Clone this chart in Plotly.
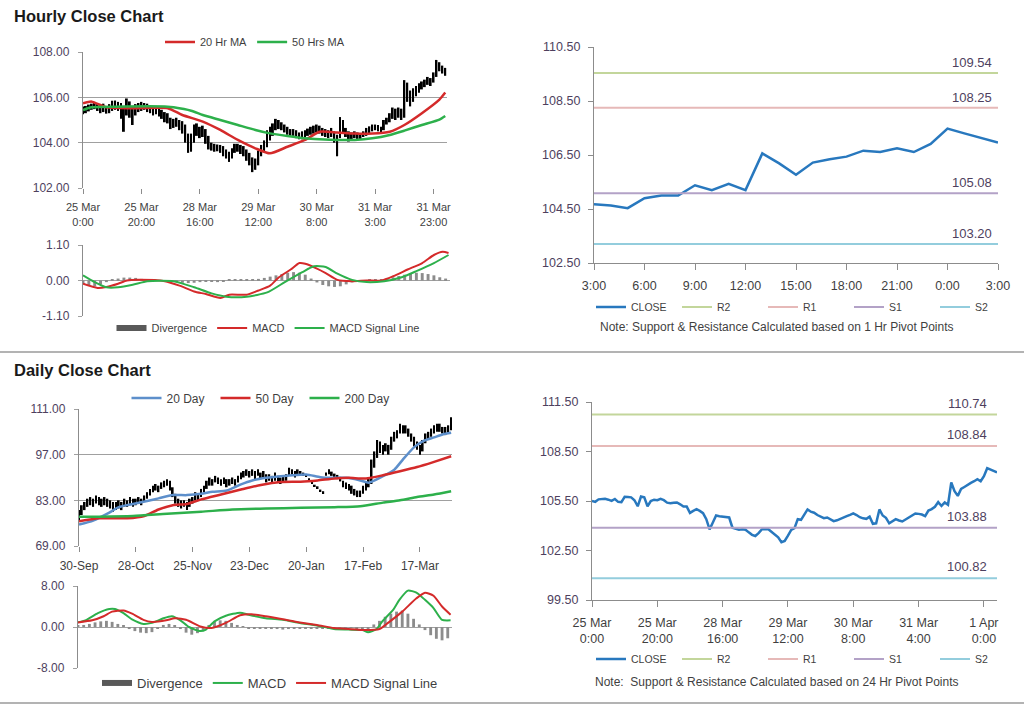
import plotly.graph_objects as go

W, H = 1024, 706
FONT = "Liberation Sans, Arial, Helvetica, sans-serif"

# ---------------- Hourly data (125 hourly bars, 25 Mar 0:00 -> 1 Apr) ----------------
hourly_close = [
    105.51, 105.45, 105.60, 105.63, 105.63, 105.58, 105.51, 105.62, 105.45, 105.43,
    105.75, 105.74, 105.72, 105.55, 105.18, 105.77, 105.72, 105.18, 105.50, 105.58,
    105.55, 105.63, 105.55, 105.40, 105.37, 105.40, 105.41, 105.30, 105.16, 105.16,
    104.78, 104.90, 105.00, 104.90, 104.76, 104.40, 103.78, 104.20, 104.62, 104.58,
    104.56, 104.54, 104.50, 103.88, 103.80, 103.76, 103.78, 103.76, 103.60, 103.45,
    103.38, 103.55, 103.78, 103.81, 103.79, 103.62, 103.45, 103.30, 103.00, 103.08,
    103.40, 103.75, 103.85, 104.40, 104.36, 104.70, 104.99, 104.85, 104.79, 104.65,
    104.55, 104.46, 104.50, 104.40, 104.28, 104.33, 104.40, 104.50, 104.58, 104.66,
    104.75, 104.65, 104.52, 104.45, 104.42, 104.55, 104.12, 104.15, 104.99, 104.62,
    104.48, 104.15, 104.28, 104.40, 104.32, 104.26, 104.38, 104.50, 104.62, 104.74,
    104.72, 104.68, 104.58, 104.92, 105.01, 105.15, 105.43, 105.20, 105.41, 105.27,
    106.62, 106.10, 105.81, 106.23, 106.35, 106.50, 106.60, 106.70, 106.82, 106.70,
    107.00, 107.49, 107.39, 107.30, 107.23]
hourly_high = [
    105.60, 105.62, 105.68, 105.72, 105.75, 105.70, 105.66, 105.72, 105.60, 105.70,
    105.85, 105.86, 105.80, 105.75, 105.60, 105.95, 105.82, 105.60, 105.70, 105.75,
    105.80, 105.75, 105.72, 105.62, 105.55, 105.55, 105.50, 105.45, 105.35, 105.30,
    105.10, 105.05, 105.10, 105.00, 104.95, 104.80, 104.40, 104.40, 104.80, 104.85,
    104.70, 104.75, 104.60, 104.30, 104.00, 103.95, 103.92, 103.90, 103.85, 103.70,
    103.60, 103.75, 103.95, 103.95, 103.90, 103.85, 103.70, 103.55, 103.35, 103.30,
    103.65, 103.90, 104.10, 104.55, 104.70, 104.85, 105.05, 105.00, 104.90, 104.80,
    104.70, 104.60, 104.60, 104.55, 104.45, 104.50, 104.55, 104.62, 104.70, 104.75,
    104.80, 104.75, 104.65, 104.60, 104.55, 104.65, 104.50, 104.35, 105.13, 105.00,
    104.65, 104.50, 104.45, 104.50, 104.45, 104.40, 104.50, 104.65, 104.72, 104.80,
    104.80, 104.78, 104.70, 105.00, 105.10, 105.30, 105.55, 105.50, 105.55, 105.50,
    106.76, 106.65, 106.30, 106.40, 106.50, 106.62, 106.70, 106.78, 106.90, 106.85,
    107.10, 107.65, 107.55, 107.40, 107.30]
hourly_low = [
    105.25, 105.30, 105.38, 105.45, 105.48, 105.40, 105.30, 105.35, 105.28, 105.30,
    105.40, 105.45, 105.40, 105.05, 104.48, 105.20, 105.10, 104.78, 105.20, 105.35,
    105.40, 105.45, 105.35, 105.30, 105.20, 105.25, 105.15, 105.05, 104.90, 104.85,
    104.60, 104.65, 104.70, 104.55, 104.40, 104.00, 103.55, 103.60, 104.00, 104.30,
    104.20, 104.25, 103.95, 103.70, 103.65, 103.60, 103.62, 103.55, 103.40, 103.30,
    103.15, 103.30, 103.55, 103.60, 103.50, 103.40, 103.20, 103.00, 102.70, 102.80,
    103.00, 103.40, 103.60, 103.80, 104.10, 104.30, 104.55, 104.60, 104.55, 104.45,
    104.35, 104.30, 104.30, 104.20, 104.15, 104.15, 104.25, 104.30, 104.35, 104.40,
    104.45, 104.40, 104.30, 104.25, 104.20, 104.25, 104.00, 103.40, 104.20, 104.40,
    104.25, 104.05, 104.10, 104.20, 104.15, 104.15, 104.25, 104.30, 104.40, 104.50,
    104.55, 104.50, 104.45, 104.55, 104.80, 104.90, 105.05, 105.00, 105.10, 105.00,
    105.10, 105.80, 105.60, 105.80, 106.05, 106.20, 106.35, 106.45, 106.55, 106.50,
    106.65, 106.90, 107.15, 107.05, 106.95]
hourly_ticks = [0, 20, 40, 60, 80, 100, 120]
hourly_ticktext_a = ["25 Mar<br>0:00", "25 Mar<br>20:00", "28 Mar<br>16:00", "29 Mar<br>12:00",
                     "30 Mar<br>8:00", "31 Mar<br>3:00", "31 Mar<br>23:00"]
hourly_ticktext_b = ["25 Mar<br>0:00", "25 Mar<br>20:00", "28 Mar<br>16:00", "29 Mar<br>12:00",
                     "30 Mar<br>8:00", "31 Mar<br>4:00", "1 Apr<br>0:00"]

ma20h_idx = [0, 3, 8, 17, 29, 34, 41, 47, 53, 59, 64, 70, 76, 81, 87, 93, 99, 105, 110, 116, 122, 124]
ma20h_val = [105.74, 105.81, 105.56, 105.52, 105.52, 105.22, 104.93, 104.56, 104.12, 103.75, 103.53,
             103.82, 104.12, 104.48, 104.45, 104.40, 104.40, 104.48, 104.78, 105.30, 105.90, 106.21]
ma50h_idx = [0, 3, 11, 29, 31, 37, 41, 47, 53, 59, 64, 70, 76, 81, 87, 93, 99, 105, 110, 116, 122, 124]
ma50h_val = [105.44, 105.56, 105.59, 105.59, 105.56, 105.41, 105.22, 105.00, 104.78, 104.56, 104.41,
             104.29, 104.19, 104.15, 104.12, 104.12, 104.19, 104.34, 104.53, 104.78, 105.02, 105.18]

macd_h_idx = [0, 5, 8, 12, 15, 19, 28, 33, 38, 42, 47, 50, 56, 60, 64, 67, 71, 74, 76, 80, 83, 87,
              92, 97, 102, 106, 111, 116, 120, 123, 125]
macd_h_val = [-0.10, -0.23, -0.20, -0.10, 0.00, 0.02, -0.02, -0.16, -0.34, -0.42, -0.54, -0.44, -0.44,
              -0.31, -0.16, 0.10, 0.34, 0.54, 0.52, 0.37, 0.23, 0.02, -0.02, 0.00, 0.00, 0.13, 0.34,
              0.54, 0.79, 0.89, 0.85]
sig_h_idx = [0, 4, 8, 12, 17, 22, 31, 38, 44, 49, 56, 63, 69, 75, 79, 83, 87, 92, 97, 103, 109, 114, 120, 125]
sig_h_val = [0.16, -0.05, -0.21, -0.21, -0.13, -0.02, -0.02, -0.21, -0.40, -0.50, -0.50, -0.37, -0.05,
             0.26, 0.44, 0.42, 0.21, 0.02, -0.05, -0.02, 0.10, 0.29, 0.54, 0.79]
div_h_idx = list(range(0, 125, 2))
div_h_val = [-0.12, -0.15, -0.18, -0.12, -0.05, 0.02, 0.06, 0.09, 0.09, 0.08, 0.05, 0.03, 0.02, 0.01,
             0.00, -0.02, -0.05, -0.07, -0.08, -0.07, -0.05, -0.04, -0.04, -0.05, -0.03, 0.02, 0.03,
             0.03, 0.04, 0.04, 0.05, 0.08, 0.12, 0.16, 0.20, 0.24, 0.26, 0.24, 0.18, 0.06, -0.06, -0.14,
             -0.18, -0.20, -0.18, -0.12, -0.06, -0.02, 0.00, 0.02, 0.03, 0.04, 0.07, 0.10, 0.14, 0.18,
             0.22, 0.24, 0.23, 0.20, 0.16, 0.10, 0.06]

# ---------------- Hourly support / resistance (last 24 hours) ----------------
sr_h_close = [104.68, 104.63, 104.53, 104.90, 105.00, 105.00, 105.38, 105.20, 105.43, 105.20,
              106.56, 106.19, 105.77, 106.22, 106.34, 106.44, 106.66, 106.61, 106.75, 106.61,
              106.91, 107.48, 107.30, 107.12, 106.96]
sr_h_ticks = [0, 3, 6, 9, 12, 15, 18, 21, 24]
sr_h_ticktext = ["3:00", "6:00", "9:00", "12:00", "15:00", "18:00", "21:00", "0:00", "3:00"]
levels_h = {"R2": 109.54, "R1": 108.25, "S1": 105.08, "S2": 103.20}
levels_d = {"R2": 110.74, "R1": 108.84, "S1": 103.88, "S2": 100.82}
level_colors = {"R2": "#C3D69B", "R1": "#E6B9B8", "S1": "#B3A2C7", "S2": "#93CDDD"}

# ---------------- Daily data (30-Sep -> 1-Apr, 132 trading days) ----------------
daily_close = [
    78.5, 80.5, 81.5, 82.5, 83.0, 82.0, 83.5, 82.5, 82.0, 83.0, 82.5, 81.5, 80.5, 81.5, 82.0, 81.0,
    82.5, 82.0, 83.0, 82.0, 82.5, 83.0, 82.5, 83.5, 84.5, 85.5, 86.5, 87.0, 86.5, 87.5, 88.0, 88.5,
    87.0, 85.0, 83.0, 82.0, 81.5, 82.0, 81.0, 82.5, 83.0, 84.5, 84.0, 85.5, 86.5, 88.0, 89.0, 88.5,
    89.5, 89.0, 88.5, 89.0, 88.0, 88.5, 89.0, 88.5, 89.5, 90.5, 91.0, 91.5, 91.0, 91.5, 90.5, 91.5,
    90.5, 91.0, 89.5, 90.0, 89.0, 90.5, 89.5, 88.5, 89.5, 90.0, 92.0, 91.5, 91.0, 91.5, 91.5, 91.0,
    90.5, 89.5, 88.5, 87.5, 87.0, 86.0, 85.5, 91.0, 92.0, 91.0, 90.5, 90.0, 89.5, 88.0, 87.5, 87.0,
    86.0, 85.5, 84.5, 85.0, 86.5, 87.5, 88.5, 94.0, 97.0, 100.5, 99.0, 98.5, 99.5, 98.5, 101.5, 103.0,
    103.5, 105.5, 104.5, 105.0, 103.5, 102.0, 101.0, 99.5, 98.5, 100.5, 102.5, 103.0, 104.0, 105.0,
    105.5, 105.0, 104.5, 104.0, 105.0, 107.0]
daily_high = [
    80.0, 81.5, 82.5, 83.5, 84.0, 83.5, 84.5, 84.0, 83.5, 84.0, 83.5, 83.0, 82.5, 82.5, 83.0, 82.5,
    83.5, 83.0, 84.0, 83.5, 83.5, 84.0, 83.5, 84.5, 85.5, 86.5, 87.5, 88.0, 87.5, 88.5, 89.0, 89.5,
    89.0, 87.0, 85.0, 83.5, 83.0, 83.0, 82.5, 83.5, 84.0, 85.5, 85.0, 86.5, 87.5, 89.0, 90.0, 89.5,
    90.5, 90.0, 89.5, 90.0, 89.5, 89.5, 90.0, 89.5, 90.5, 91.5, 92.0, 92.5, 92.0, 92.5, 92.0, 92.5,
    91.5, 92.0, 91.0, 91.0, 90.5, 91.5, 90.5, 90.0, 90.5, 91.0, 93.0, 92.5, 92.0, 92.5, 92.0, 91.5,
    90.8, 89.8, 88.8, 87.8, 87.3, 86.3, 85.8, 91.5, 92.5, 91.8, 91.2, 90.8, 90.2, 89.0, 88.5, 88.0,
    87.5, 86.5, 86.0, 86.0, 87.5, 88.5, 90.0, 95.5, 98.0, 101.5, 101.0, 100.0, 100.5, 100.0, 102.5, 104.0,
    104.5, 106.5, 106.0, 106.0, 105.0, 103.5, 102.5, 101.0, 100.0, 101.5, 103.5, 104.0, 105.0, 106.0,
    106.5, 106.5, 105.5, 105.5, 106.0, 108.5]
daily_low = [
    77.0, 78.5, 80.0, 81.0, 81.5, 81.0, 82.0, 81.5, 81.0, 81.5, 81.0, 80.5, 79.5, 80.0, 80.5, 80.0,
    81.0, 81.0, 81.5, 81.0, 81.5, 82.0, 81.5, 82.5, 83.5, 84.5, 85.5, 86.0, 85.5, 86.5, 87.0, 87.5,
    86.0, 84.0, 82.0, 81.0, 80.5, 81.0, 80.0, 81.0, 82.0, 83.0, 83.0, 84.0, 85.5, 86.5, 87.5, 87.5,
    88.5, 88.0, 87.5, 88.0, 87.0, 87.5, 88.0, 87.5, 88.5, 89.5, 90.0, 90.5, 90.0, 90.5, 89.5, 90.5,
    89.5, 90.0, 88.5, 89.0, 88.0, 89.0, 88.5, 88.0, 88.5, 89.0, 90.5, 90.5, 90.0, 90.5, 90.5, 90.5,
    90.2, 89.2, 88.2, 87.2, 86.7, 85.7, 85.2, 90.5, 91.0, 90.5, 90.0, 89.5, 88.8, 87.0, 86.5, 86.0,
    85.0, 84.5, 84.0, 84.0, 85.0, 86.0, 87.0, 88.0, 93.0, 96.0, 97.5, 97.0, 98.0, 97.0, 98.5, 101.0,
    102.0, 103.5, 103.5, 103.5, 102.5, 101.0, 99.5, 98.5, 97.0, 98.0, 100.5, 101.5, 102.5, 103.5,
    104.0, 104.0, 103.5, 103.0, 103.5, 104.5]
daily_ticks = [0, 20, 40, 60, 80, 100, 120]
daily_ticktext = ["30-Sep", "28-Oct", "25-Nov", "23-Dec", "20-Jan", "17-Feb", "17-Mar"]

ma20d_idx = [0, 5, 10, 14, 19, 24, 28, 33, 38, 43, 47, 52, 57, 61, 66, 71, 75, 80, 85, 89, 94, 99,
             102, 107, 111, 114, 118, 121, 125, 128, 131]
ma20d_val = [75.6, 76.8, 78.9, 80.9, 81.9, 82.8, 83.6, 84.6, 84.6, 85.0, 85.6, 86.0, 87.9, 89.1, 89.9,
             90.4, 90.7, 90.9, 90.1, 89.9, 89.9, 89.1, 88.4, 90.4, 92.4, 95.5, 99.3, 101.1, 102.3, 103.2, 103.7]
ma50d_idx = [0, 7, 17, 23, 28, 33, 38, 43, 50, 57, 64, 71, 78, 84, 90, 95, 101, 107, 113, 119, 125, 131]
ma50d_val = [76.6, 77.5, 77.5, 78.2, 80.2, 81.5, 81.9, 83.3, 84.8, 86.3, 87.7, 88.6, 88.7, 89.1, 89.7,
             89.9, 89.7, 90.7, 91.9, 93.2, 94.8, 96.5]
ma200d_idx = [0, 7, 19, 31, 43, 54, 66, 78, 90, 99, 107, 113, 119, 125, 131]
ma200d_val = [78.0, 78.0, 78.2, 78.9, 79.5, 80.2, 80.5, 80.7, 80.9, 81.2, 82.3, 83.0, 84.0, 84.8, 85.8]

macd_d_idx = [0, 3, 7, 11, 13, 16, 19, 23, 26, 30, 33, 36, 39, 43, 45, 48, 52, 57, 60, 66, 72, 78,
              84, 90, 95, 100, 102, 105, 107, 111, 113, 116, 119, 122, 125, 128, 131]
macd_d_val = [0.9, 1.4, 2.7, 3.5, 3.5, 2.7, 1.5, 0.6, 0.8, 1.7, 2.1, 1.3, 0.0, -0.8, -0.5, 1.1, 2.2,
              2.8, 2.4, 1.7, 1.4, 0.8, 0.3, -0.4, -0.5, -0.6, -1.0, -0.4, 1.1, 3.5, 5.3, 7.1, 6.7,
              5.3, 3.7, 1.4, 1.3]
sig_d_idx = [0, 5, 9, 12, 16, 19, 23, 26, 31, 34, 38, 43, 47, 52, 57, 61, 66, 72, 78, 84, 90, 95,
             101, 106, 109, 114, 119, 122, 125, 128, 131]
sig_d_val = [0.9, 1.3, 2.1, 3.0, 3.2, 2.6, 1.4, 1.0, 1.3, 1.7, 1.4, 0.1, -0.2, 0.8, 2.3, 2.5, 2.1,
             1.5, 0.9, 0.4, -0.2, -0.4, -0.6, -0.4, 0.8, 3.0, 5.6, 6.7, 6.1, 4.0, 2.4]
div_d_idx = list(range(0, 131, 2))
div_d_val = [0.2, 0.4, 0.6, 0.9, 1.1, 1.2, 1.0, 0.6, 0.2, -0.4, -0.8, -1.1, -1.2, -1.0, -0.3, 0.4, 0.6,
             0.3, -0.4, -1.1, -1.5, -1.2, -0.6, 0.4, 1.0, 1.3, 1.2, 0.8, 0.4, 0.1, -0.2, -0.3, -0.3,
             -0.3, -0.4, -0.4, -0.5, -0.4, -0.3, -0.3, -0.2, -0.2, -0.2, -0.2, -0.2, -0.2, -0.2, -0.1,
             -0.1, -0.2, -0.3, -0.5, 0.5, 1.2, 2.0, 2.6, 3.0, 3.2, 2.6, 1.6, 0.5, -0.6, -1.6, -2.3,
             -2.6, -2.2]

# ---------------- styling constants ----------------
GRID = "#A0A0A0"
AXC = "#8C8C8C"
YTC = "#4E3F5E"
XTC = "#3F3F3F"
RED = "#D42A2A"
GREEN = "#2DB04B"
BLUE20 = "#5D8FCB"
CLOSEC = "#2878BE"
DIVC = "#8C8C8C"


def fx(p):
    return p / W


def fy(p):
    return 1 - p / H


fig = go.Figure()
h_idx = list(range(len(hourly_close)))
d_idx = list(range(len(daily_close)))

# ---- Panel 1: hourly price bars + MAs ----
fig.add_trace(go.Bar(x=h_idx, base=hourly_low, y=[a - b for a, b in zip(hourly_high, hourly_low)],
                     width=0.65, marker=dict(color="black", line=dict(width=0)),
                     xaxis="x", yaxis="y", showlegend=False, hoverinfo="skip"))
fig.add_trace(go.Scatter(x=ma20h_idx, y=ma20h_val, mode="lines", name="20 Hr MA",
                         line=dict(color=RED, width=2.5, shape="spline", smoothing=0.6),
                         xaxis="x", yaxis="y", legend="legend"))
fig.add_trace(go.Scatter(x=ma50h_idx, y=ma50h_val, mode="lines", name="50 Hrs MA",
                         line=dict(color=GREEN, width=2.5, shape="spline", smoothing=0.6),
                         xaxis="x", yaxis="y", legend="legend"))

# ---- Panel 2: hourly MACD ----
fig.add_trace(go.Bar(x=div_h_idx, y=div_h_val, width=1.0, marker=dict(color=DIVC, line=dict(width=0)),
                     xaxis="x2", yaxis="y2", showlegend=False, hoverinfo="skip"))
fig.add_trace(go.Scatter(x=[None], y=[None], mode="lines", name="Divergence",
                         line=dict(color="#595959", width=6), xaxis="x2", yaxis="y2", legend="legend2"))
fig.add_trace(go.Scatter(x=macd_h_idx, y=macd_h_val, mode="lines", name="MACD",
                         line=dict(color=RED, width=2, shape="spline", smoothing=0.6),
                         xaxis="x2", yaxis="y2", legend="legend2"))
fig.add_trace(go.Scatter(x=sig_h_idx, y=sig_h_val, mode="lines", name="MACD Signal Line",
                         line=dict(color=GREEN, width=2, shape="spline", smoothing=0.6),
                         xaxis="x2", yaxis="y2", legend="legend2"))

# ---- Panel 3: hourly S/R ----
sr_idx = list(range(len(sr_h_close)))
fig.add_trace(go.Scatter(x=sr_idx, y=sr_h_close, mode="lines", name="CLOSE",
                         line=dict(color=CLOSEC, width=2.5), xaxis="x3", yaxis="y3", legend="legend3"))
for k in ["R2", "R1", "S1", "S2"]:
    fig.add_trace(go.Scatter(x=[sr_idx[0], sr_idx[-1]], y=[levels_h[k], levels_h[k]], mode="lines", name=k,
                             line=dict(color=level_colors[k], width=2), xaxis="x3", yaxis="y3",
                             legend="legend3"))

# ---- Panel 4: daily price bars + MAs ----
fig.add_trace(go.Bar(x=d_idx, base=daily_low, y=[a - b for a, b in zip(daily_high, daily_low)],
                     width=0.6, marker=dict(color="black", line=dict(width=0)),
                     xaxis="x4", yaxis="y4", showlegend=False, hoverinfo="skip"))
fig.add_trace(go.Scatter(x=ma20d_idx, y=ma20d_val, mode="lines", name="20 Day",
                         line=dict(color=BLUE20, width=2.5, shape="spline", smoothing=0.6),
                         xaxis="x4", yaxis="y4", legend="legend4"))
fig.add_trace(go.Scatter(x=ma50d_idx, y=ma50d_val, mode="lines", name="50 Day",
                         line=dict(color=RED, width=2.5, shape="spline", smoothing=0.6),
                         xaxis="x4", yaxis="y4", legend="legend4"))
fig.add_trace(go.Scatter(x=ma200d_idx, y=ma200d_val, mode="lines", name="200 Day",
                         line=dict(color=GREEN, width=2.5, shape="spline", smoothing=0.6),
                         xaxis="x4", yaxis="y4", legend="legend4"))

# ---- Panel 5: daily MACD ----
fig.add_trace(go.Bar(x=div_d_idx, y=div_d_val, width=1.0, marker=dict(color=DIVC, line=dict(width=0)),
                     xaxis="x5", yaxis="y5", showlegend=False, hoverinfo="skip"))
fig.add_trace(go.Scatter(x=[None], y=[None], mode="lines", name="Divergence",
                         line=dict(color="#595959", width=6), xaxis="x5", yaxis="y5", legend="legend5"))
fig.add_trace(go.Scatter(x=macd_d_idx, y=macd_d_val, mode="lines", name="MACD",
                         line=dict(color=GREEN, width=2, shape="spline", smoothing=0.6),
                         xaxis="x5", yaxis="y5", legend="legend5"))
fig.add_trace(go.Scatter(x=sig_d_idx, y=sig_d_val, mode="lines", name="MACD Signal Line",
                         line=dict(color=RED, width=2, shape="spline", smoothing=0.6),
                         xaxis="x5", yaxis="y5", legend="legend5"))

# ---- Panel 6: daily S/R (hourly closes) ----
fig.add_trace(go.Scatter(x=h_idx, y=hourly_close, mode="lines", name="CLOSE",
                         line=dict(color=CLOSEC, width=2.5), xaxis="x6", yaxis="y6", legend="legend6"))
for k in ["R2", "R1", "S1", "S2"]:
    fig.add_trace(go.Scatter(x=[h_idx[0], h_idx[-1]], y=[levels_d[k], levels_d[k]], mode="lines", name=k,
                             line=dict(color=level_colors[k], width=2), xaxis="x6", yaxis="y6",
                             legend="legend6"))


def left_y(dom, rng, tickvals, ticktext, anchor):
    return dict(domain=dom, range=rng, tickvals=tickvals, ticktext=ticktext, showgrid=True,
                gridcolor=GRID, gridwidth=1.4, showline=True, linecolor=AXC, linewidth=1.3,
                ticks="outside", ticklen=4, tickcolor=GRID, zeroline=False, anchor=anchor,
                tickfont=dict(size=12, color=YTC, family=FONT), ticklabelstandoff=6,
                automargin=False, fixedrange=True)


def right_y(dom, rng, tickvals, anchor):
    return dict(domain=dom, range=rng, tickvals=tickvals, ticktext=["%.2f" % v for v in tickvals],
                showgrid=False, showline=True, linecolor=AXC, linewidth=1.3, ticks="outside",
                ticklen=5, tickcolor=AXC, zeroline=False, anchor=anchor,
                tickfont=dict(size=12.5, color=YTC, family=FONT), ticklabelstandoff=5,
                automargin=False, fixedrange=True)


yt1 = [102, 104, 106, 108]
yt2 = [-1.1, 0, 1.1]
yt3 = [102.5, 104.5, 106.5, 108.5, 110.5]
yt4 = [69, 83, 97, 111]
yt5 = [-8, 0, 8]
yt6 = [99.5, 102.5, 105.5, 108.5, 111.5]

fig.update_layout(
    width=W, height=H, autosize=False, margin=dict(l=0, r=0, t=0, b=0, autoexpand=False),
    paper_bgcolor="white", plot_bgcolor="white", barmode="overlay", showlegend=True,
    font=dict(family=FONT, color=XTC),
    xaxis=dict(domain=[fx(83), fx(447)], range=[0, 124.6], tickvals=hourly_ticks, ticktext=hourly_ticktext_a,
               showgrid=False, zeroline=False, showline=False, ticks="outside", ticklen=5, tickcolor=AXC,
               tickfont=dict(size=11, color=XTC), ticklabelstandoff=4, anchor="y", automargin=False,
               fixedrange=True),
    yaxis=left_y([fy(188), fy(52)], [102, 108], yt1, ["%.2f" % v for v in yt1], "x"),
    xaxis2=dict(domain=[fx(83), fx(450)], range=[0, 125.5], showticklabels=False, ticks="", showgrid=False,
                zeroline=False, showline=False, anchor="y2", automargin=False, fixedrange=True),
    yaxis2=left_y([fy(316), fy(245)], [-1.1, 1.1], yt2, ["-1.10", "0.00", "1.10"], "x2"),
    xaxis3=dict(domain=[fx(594), fx(998)], range=[0, 24], tickvals=sr_h_ticks, ticktext=sr_h_ticktext,
                showgrid=False, zeroline=False, showline=True, linecolor=AXC, linewidth=1.3, ticks="outside",
                ticklen=6, tickcolor=AXC, tickfont=dict(size=12.5, color=XTC), ticklabelstandoff=5,
                anchor="y3", automargin=False, fixedrange=True),
    yaxis3=right_y([fy(263), fy(47)], [102.5, 110.5], yt3, "x3"),
    xaxis4=dict(domain=[fx(79), fx(452)], range=[0, 131.3], tickvals=daily_ticks, ticktext=daily_ticktext,
                showgrid=False, zeroline=False, showline=False, ticks="outside", ticklen=5, tickcolor=AXC,
                tickfont=dict(size=12, color=XTC), ticklabelstandoff=4, anchor="y4", automargin=False,
                fixedrange=True),
    yaxis4=left_y([fy(546), fy(409)], [69, 111], yt4, ["%.2f" % v for v in yt4], "x4"),
    xaxis5=dict(domain=[fx(78), fx(452)], range=[0, 131.5], showticklabels=False, ticks="", showgrid=False,
                zeroline=False, showline=False, anchor="y5", automargin=False, fixedrange=True),
    yaxis5=left_y([fy(668), fy(586)], [-8, 8], yt5, ["%.2f" % v for v in yt5], "x5"),
    xaxis6=dict(domain=[fx(592), fx(997)], range=[0, 124], tickvals=hourly_ticks, ticktext=hourly_ticktext_b,
                showgrid=False, zeroline=False, showline=True, linecolor=AXC, linewidth=1.3, ticks="outside",
                ticklen=6, tickcolor=AXC, tickfont=dict(size=12.5, color=XTC), ticklabelstandoff=5,
                anchor="y6", automargin=False, fixedrange=True),
    yaxis6=right_y([fy(600), fy(402)], [99.5, 111.5], yt6, "x6"),
)

leg_common = dict(orientation="h", xanchor="center", yanchor="middle", bgcolor="rgba(0,0,0,0)",
                  itemwidth=30, itemclick=False, itemdoubleclick=False)
fig.update_layout(
    legend=dict(x=fx(255), y=fy(42), font=dict(size=11, color=XTC), **leg_common),
    legend2=dict(x=fx(268), y=fy(328), font=dict(size=11, color=XTC), **leg_common),
    legend3=dict(x=fx(806), y=fy(307), font=dict(size=10.5, color=XTC), entrywidth=41, **leg_common),
    legend4=dict(x=fx(260), y=fy(398), font=dict(size=12, color=XTC), entrywidth=44, **leg_common),
    legend5=dict(x=fx(270), y=fy(683), font=dict(size=13, color=XTC), **leg_common),
    legend6=dict(x=fx(806), y=fy(659), font=dict(size=10.5, color=XTC), entrywidth=41, **leg_common),
)

annotations = [
    dict(text="<b>Hourly Close Chart</b>", x=fx(12), y=fy(16), xref="paper", yref="paper",
         xanchor="left", yanchor="middle", showarrow=False, font=dict(size=16.5, color="#1a1a1a")),
    dict(text="<b>Daily Close Chart</b>", x=fx(12), y=fy(370), xref="paper", yref="paper",
         xanchor="left", yanchor="middle", showarrow=False, font=dict(size=16.5, color="#1a1a1a")),
    dict(text="Note: Support & Resistance Calculated based on 1 Hr Pivot Points", x=fx(777), y=fy(327),
         xref="paper", yref="paper", xanchor="center", yanchor="middle", showarrow=False,
         font=dict(size=12, color=XTC)),
    dict(text="Note:  Support & Resistance Calculated based on 24 Hr Pivot Points", x=fx(777), y=fy(682),
         xref="paper", yref="paper", xanchor="center", yanchor="middle", showarrow=False,
         font=dict(size=12, color=XTC)),
]
for k in ["R2", "R1", "S1", "S2"]:
    annotations.append(dict(text="%.2f" % levels_h[k], x=24, y=levels_h[k], xref="x3", yref="y3",
                            xanchor="right", yanchor="bottom", xshift=-4, yshift=1, showarrow=False,
                            font=dict(size=13, color=YTC)))
    annotations.append(dict(text="%.2f" % levels_d[k], x=124, y=levels_d[k], xref="x6", yref="y6",
                            xanchor="right", yanchor="bottom", xshift=-8, yshift=2, showarrow=False,
                            font=dict(size=13, color=YTC)))
fig.update_layout(annotations=annotations)

fig.update_layout(shapes=[
    dict(type="line", xref="paper", yref="paper", x0=0, x1=1, y0=fy(352), y1=fy(352),
         line=dict(color="#9A9A9A", width=1.5)),
    dict(type="line", xref="paper", yref="paper", x0=0, x1=1, y0=fy(703), y1=fy(703),
         line=dict(color="#9A9A9A", width=1.5)),
])

fig.write_html("out.html", config={"displayModeBar": False, "staticPlot": False},
               post_script="document.body.style.margin='0px';")
